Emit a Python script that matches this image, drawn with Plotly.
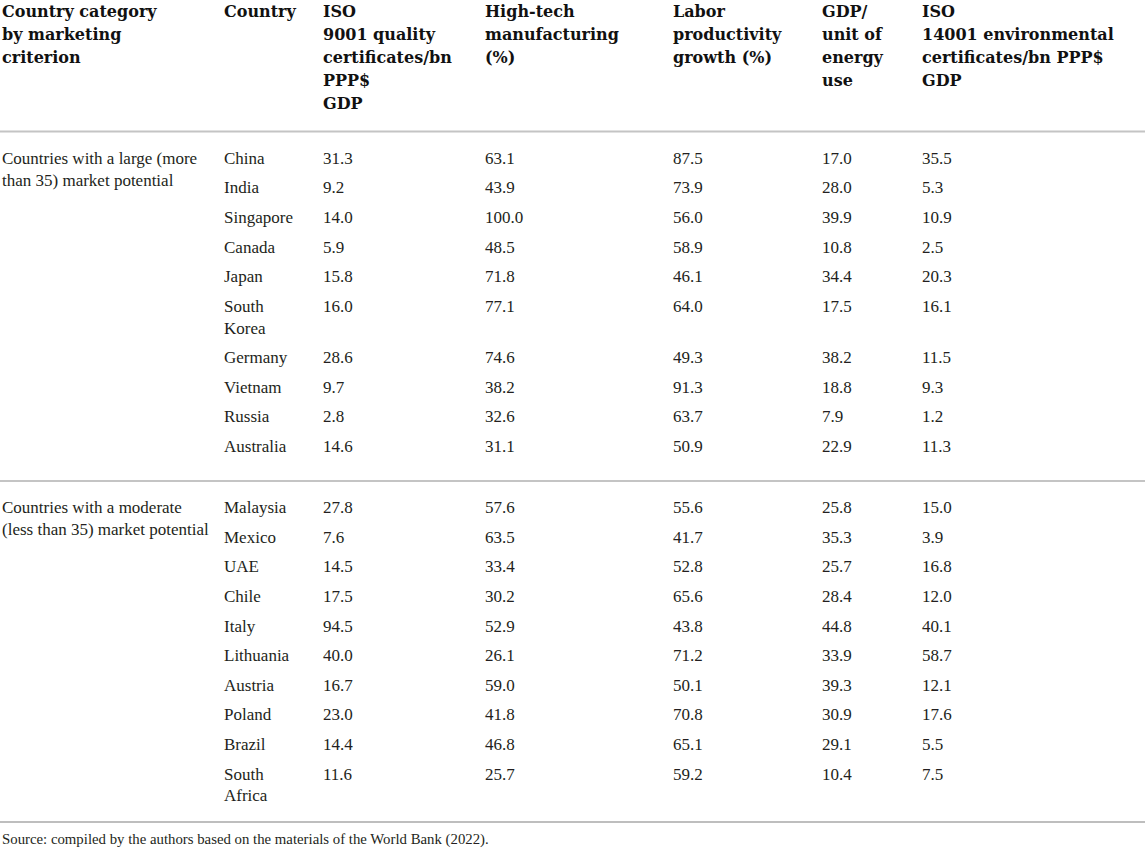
import plotly.graph_objects as go

# Data
headers = [
    "Country category<br>by marketing<br>criterion",
    "Country",
    "ISO<br>9001 quality<br>certificates/bn<br>PPP$<br>GDP",
    "High-tech<br>manufacturing<br>(%)",
    "Labor<br>productivity<br>growth (%)",
    "GDP/<br>unit of<br>energy<br>use",
    "ISO<br>14001 environmental<br>certificates/bn PPP$<br>GDP",
]
categories = [
    "Countries with a large (more<br>than 35) market potential",
    "Countries with a moderate<br>(less than 35) market potential",
]
countries = [
    ["China", "India", "Singapore", "Canada", "Japan", "South<br>Korea",
     "Germany", "Vietnam", "Russia", "Australia"],
    ["Malaysia", "Mexico", "UAE", "Chile", "Italy", "Lithuania", "Austria",
     "Poland", "Brazil", "South<br>Africa"],
]
iso9001 = [
    [31.3, 9.2, 14.0, 5.9, 15.8, 16.0, 28.6, 9.7, 2.8, 14.6],
    [27.8, 7.6, 14.5, 17.5, 94.5, 40.0, 16.7, 23.0, 14.4, 11.6],
]
hightech = [
    [63.1, 43.9, 100.0, 48.5, 71.8, 77.1, 74.6, 38.2, 32.6, 31.1],
    [57.6, 63.5, 33.4, 30.2, 52.9, 26.1, 59.0, 41.8, 46.8, 25.7],
]
labor = [
    [87.5, 73.9, 56.0, 58.9, 46.1, 64.0, 49.3, 91.3, 63.7, 50.9],
    [55.6, 41.7, 52.8, 65.6, 43.8, 71.2, 50.1, 70.8, 65.1, 59.2],
]
gdp_energy = [
    [17.0, 28.0, 39.9, 10.8, 34.4, 17.5, 38.2, 18.8, 7.9, 22.9],
    [25.8, 35.3, 25.7, 28.4, 44.8, 33.9, 39.3, 30.9, 29.1, 10.4],
]
iso14001 = [
    [35.5, 5.3, 10.9, 2.5, 20.3, 16.1, 11.5, 9.3, 1.2, 11.3],
    [15.0, 3.9, 16.8, 12.0, 40.1, 58.7, 12.1, 17.6, 5.5, 7.5],
]
source = "Source: compiled by the authors based on the materials of the World Bank (2022)."

# Layout (pixel units)
W, H = 1145, 848
col_x = [2, 224, 323, 485, 673, 822, 922]
head_top, head_pitch = 12.5, 23.2
body_pitch, line_pitch = 29.6, 21.8
group_top = [159.5, 509]
head_rule, group_rule, bottom_rule = 131.5, 481, 822
body_font = dict(family="Liberation Serif", size=17, color="#231f20")
head_font = dict(family="DejaVu Serif", size=16, color="#111111")

xs, ys, ts = [], [], []


def put(x, y, text, pitch):
    for i, part in enumerate(text.split("<br>")):
        xs.append(x)
        ys.append(y + i * pitch)
        ts.append(part)


# header
hx, hy, ht = [], [], []
for c, h in enumerate(headers):
    for i, part in enumerate(h.split("<br>")):
        hx.append(col_x[c])
        hy.append(head_top + i * head_pitch)
        ht.append("<b>" + part + "</b>")

# body
for g in range(len(categories)):
    y = group_top[g]
    put(col_x[0], y, categories[g], line_pitch)
    for r in range(len(countries[g])):
        put(col_x[1], y, countries[g][r], line_pitch)
        for c, col in enumerate([iso9001, hightech, labor, gdp_energy, iso14001]):
            put(col_x[c + 2], y, f"{col[g][r]:.1f}", line_pitch)
        y += body_pitch + line_pitch * (countries[g][r].count("<br>"))

fig = go.Figure()
fig.add_trace(go.Scatter(x=hx, y=hy, text=ht, mode="text", textposition="middle right",
                         textfont=head_font, hoverinfo="skip", cliponaxis=False))
fig.add_trace(go.Scatter(x=xs, y=ys, text=ts, mode="text", textposition="middle right",
                         textfont=body_font, hoverinfo="skip", cliponaxis=False))
fig.add_trace(go.Scatter(x=[2], y=[840.5], text=[source], mode="text", textposition="middle right",
                         textfont=dict(family="Liberation Serif", size=14.8, color="#231f20"),
                         hoverinfo="skip", cliponaxis=False))

for yy, col, wd in [(head_rule, "#c4c4c4", 2), (group_rule, "#c4c4c4", 2), (bottom_rule, "#a8a8a8", 1.5)]:
    fig.add_shape(type="line", x0=0, x1=W, y0=yy, y1=yy, line=dict(color=col, width=wd))

fig.update_xaxes(range=[0, W], visible=False)
fig.update_yaxes(range=[H, 0], visible=False)
fig.update_layout(width=W, height=H, margin=dict(l=0, r=0, t=0, b=0),
                  plot_bgcolor="white", paper_bgcolor="white", showlegend=False)
# drop the browser's default 8px body margin so the page starts at the window corner
fig.write_html("out.html", config={"displayModeBar": False},
               post_script="document.body.style.margin='0';")
